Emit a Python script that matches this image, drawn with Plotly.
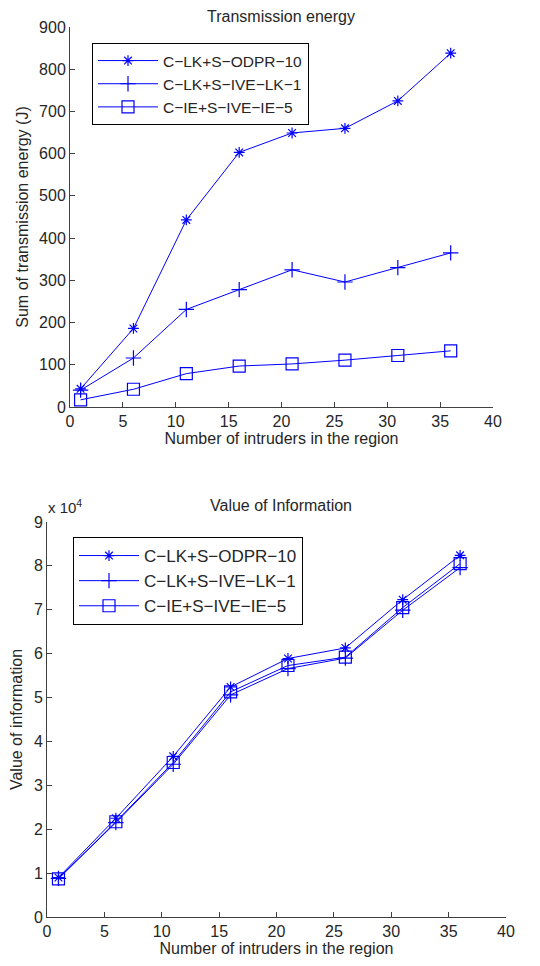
import plotly.graph_objects as go

x_vals = [1, 6, 11, 16, 21, 26, 31, 36]
names = ["C\u2212LK+S\u2212ODPR\u221210", "C\u2212LK+S\u2212IVE\u2212LK\u22121", "C\u2212IE+S\u2212IVE\u2212IE\u22125"]

# Transmission energy (J)
energy_odpr = [43, 186, 443, 603, 649, 660, 725, 838]
energy_ive_lk = [40, 116, 231, 278, 325, 296, 330, 365]
energy_ive_ie = [17, 42, 79, 97, 102, 111, 122, 133]

# Value of information (x 10^4)
voi_odpr = [0.90, 2.25, 3.66, 5.24, 5.89, 6.13, 7.23, 8.24]
voi_ive_lk = [0.88, 2.15, 3.48, 5.06, 5.66, 5.90, 6.99, 7.96]
voi_ive_ie = [0.87, 2.17, 3.52, 5.13, 5.73, 5.92, 7.05, 8.05]

x_ticks = [0, 5, 10, 15, 20, 25, 30, 35, 40]
energy_ticks = [0, 100, 200, 300, 400, 500, 600, 700, 800, 900]
voi_ticks = [0, 1, 2, 3, 4, 5, 6, 7, 8, 9]

symbols = ["asterisk-open", "cross-thin-open", "square-open"]
sizes = [9, 11, 12]
BLUE = "rgb(0,0,255)"
FONT = "Liberation Sans, Arial, sans-serif"
AX = "#404040"
TXT = "#262626"
OFF = 8  # page body margin
W, H = 540 - 2 * OFF, 966 - 2 * OFF


def px(x):
    return (x - OFF) / W


def py(y):
    return 1 - (y - OFF) / H


fig = go.Figure()
for name, ys, sym, sz in zip(names, [energy_odpr, energy_ive_lk, energy_ive_ie], symbols, sizes):
    fig.add_trace(go.Scatter(x=x_vals, y=ys, name=name, mode="lines+markers",
                             line=dict(color=BLUE, width=1),
                             marker=dict(symbol=sym, size=sz, color=BLUE, line=dict(color=BLUE, width=1.2)),
                             xaxis="x", yaxis="y", legend="legend"))
for name, ys, sym, sz in zip(names, [voi_odpr, voi_ive_lk, voi_ive_ie], symbols, sizes):
    fig.add_trace(go.Scatter(x=x_vals, y=ys, name=name, mode="lines+markers",
                             line=dict(color=BLUE, width=1),
                             marker=dict(symbol=sym, size=sz, color=BLUE, line=dict(color=BLUE, width=1.2)),
                             xaxis="x2", yaxis="y2", legend="legend2"))


def axis_common():
    return dict(showgrid=False, zeroline=False, showline=True, linecolor=AX, linewidth=1,
                ticks="inside", ticklen=5, tickcolor=AX, tickwidth=1, automargin=False,
                tickfont=dict(family=FONT, size=16, color=TXT), mirror=False)


fig.update_layout(
    width=W, height=H, margin=dict(l=0, r=0, t=0, b=0, autoexpand=False),
    paper_bgcolor="white", plot_bgcolor="white",
    font=dict(family=FONT, color=TXT),
    xaxis=dict(domain=[px(70), px(493)], range=[0, 40], tickvals=x_ticks, anchor="y",
               title=dict(text="Number of intruders in the region", font=dict(size=16), standoff=2),
               **axis_common()),
    yaxis=dict(domain=[py(407), py(27)], range=[0, 900], tickvals=energy_ticks, anchor="x",
               title=dict(text="Sum of transmission energy (J)", font=dict(size=16), standoff=6),
               **axis_common()),
    xaxis2=dict(domain=[px(47), px(506)], range=[0, 40], tickvals=x_ticks, anchor="y2",
                title=dict(text="Number of intruders in the region", font=dict(size=16), standoff=2),
                **axis_common()),
    yaxis2=dict(domain=[py(917), py(522)], range=[0, 9], tickvals=voi_ticks, anchor="x2",
                title=dict(text="Value of information", font=dict(size=16), standoff=8),
                **axis_common()),
    legend=dict(x=px(92), y=py(43), xanchor="left", yanchor="top", bgcolor="white",
                bordercolor="black", borderwidth=1, font=dict(family=FONT, size=15.5, color=TXT),
                tracegroupgap=0, itemwidth=60),
    legend2=dict(x=px(73), y=py(537), xanchor="left", yanchor="top", bgcolor="white",
                 bordercolor="black", borderwidth=1, font=dict(family=FONT, size=17, color=TXT),
                 tracegroupgap=0, itemwidth=60),
    annotations=[
        dict(text="Transmission energy", x=px(281), y=py(17), xref="paper", yref="paper",
             showarrow=False, font=dict(family=FONT, size=16, color=TXT), yanchor="middle"),
        dict(text="Value of Information", x=px(281), y=py(505), xref="paper", yref="paper",
             showarrow=False, font=dict(family=FONT, size=16, color=TXT), yanchor="middle"),
        dict(text="x 10<sup>4</sup>", x=px(46), y=py(506), xref="paper", yref="paper", xanchor="left",
             showarrow=False, font=dict(family=FONT, size=15, color=TXT), yanchor="middle"),
    ],
)

fig.write_html("out.html")
